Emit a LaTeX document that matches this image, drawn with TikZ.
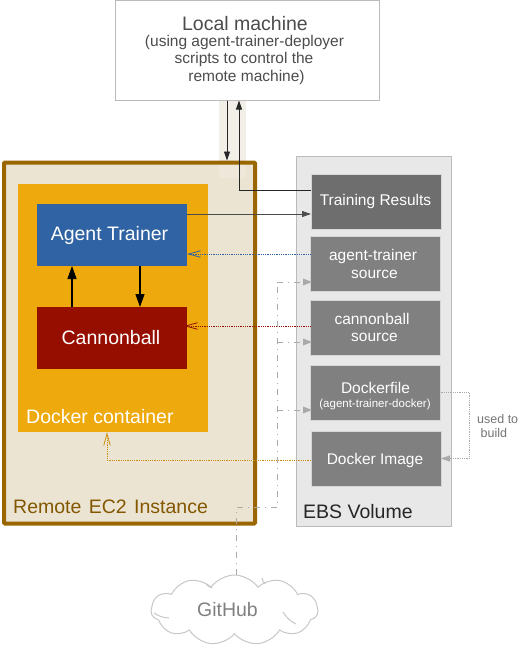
\documentclass[tikz,border=0pt]{standalone}
\usepackage{fontspec}
\setmainfont{Liberation Sans}
\usetikzlibrary{shapes.symbols,arrows.meta,positioning}

\definecolor{ecborder}{HTML}{996600}
\definecolor{ecfill}{HTML}{ECE4D3}
\definecolor{dockerfill}{HTML}{EEA90C}
\definecolor{trainerblue}{HTML}{3063A3}
\definecolor{cannonred}{HTML}{960E00}
\definecolor{ebsfill}{HTML}{E8E8E8}
\definecolor{frameline}{HTML}{BBBBBB}
\definecolor{itemgrey}{HTML}{808080}
\definecolor{resultgrey}{HTML}{6E6E6E}
\definecolor{gitgrey}{HTML}{AAAAAA}
\definecolor{bandfill}{HTML}{F2EFE9}

\newcommand{\px}[1]{\fontsize{#1}{#1}\selectfont}
\newcommand{\nudge}[1]{\hspace*{#1}}

\tikzset{
    framebox/.style={inner sep=0pt, outer sep=0pt, anchor=north west},
    itembox/.style={inner sep=0pt, outer sep=0pt, anchor=north west, minimum width=130pt, minimum height=55pt,
        fill=itemgrey, draw=frameline!60, line width=1pt, text=white, align=center, font=\px{15.5}},
    corebox/.style={inner sep=0pt, outer sep=0pt, anchor=north west, minimum width=150pt, minimum height=62pt,
        text=white, font=\px{19.5}},
    darkline/.style={line width=0.9pt, draw=black!85, -{Triangle[length=9pt,width=6pt]}},
    coreline/.style={line width=1.2pt, draw=black, -{Triangle[length=13pt,width=9pt]}},
    dotline/.style={line width=0.8pt, densely dotted, -{Straight Barb[length=12pt,width=6.5pt]}},
    gitline/.style={line width=0.8pt, draw=gitgrey, dash pattern=on 6pt off 5pt on 1pt off 5pt},
}

\begin{document}
\begin{tikzpicture}[x=1pt, y=-1pt]
\useasboundingbox (0,0) rectangle (520,646);
% Link band behind the two arrows
\fill[bandfill] (219,100) rectangle (246,178);
% Outer frames
\node[framebox, outer sep=2pt, minimum width=251pt, minimum height=361pt, fill=ecfill, draw=ecborder, line width=4pt, rounded corners=1pt] (remote) at (2,160.5) {};
\fill[bandfill, opacity=0.35] (219,165) rectangle (246,178);
\node[framebox, minimum width=155pt, minimum height=370pt, fill=ebsfill, draw=frameline, line width=1pt] (ebs) at (296,156) {};
\node[framebox, minimum width=190pt, minimum height=248pt, fill=dockerfill] (docker) at (18,184) {};
\node[framebox, minimum width=264pt, minimum height=100pt, fill=white, draw=frameline, line width=1pt, text=black!70, align=center] (local) at (115,0.5)
    {{\px{19.5}\nudge{-4pt}Local machine}\\[4pt]{\px{15.5}\nudge{-5pt}(using agent-trainer-deployer}\\[2pt]{\px{15.5}\nudge{-6pt}scripts to control the}\\[2pt]{\px{15.5}\nudge{-1pt}remote machine)}};
% Boxes inside the container
\node[corebox, fill=trainerblue] (trainer) at (37,204) {\nudge{-5pt}Agent Trainer};
\node[corebox, fill=cannonred] (cannon) at (37,307) {\nudge{-2pt}Cannonball};
% Boxes on the volume
\node[itembox, fill=resultgrey] (results) at (311,174) {\nudge{-1pt}Training Results};
\node[itembox] (agentsrc) at (310.5,236.5) {\nudge{-5pt}agent-trainer\\[2pt]\nudge{-2pt}source};
\node[itembox] (cannonsrc) at (310.5,300) {\nudge{-7pt}cannonball\\[2pt]\nudge{-2pt}source};
\node[itembox] (dockerfile) at (310.5,365) {\rule{0pt}{18pt}Dockerfile\\[-1pt]{\px{11.5}\nudge{-1pt}(agent-trainer-docker)}};
\node[itembox] (image) at (311,431) {\rule{0pt}{15pt}\nudge{-2pt}Docker Image};
% Labels
\node[inner sep=0pt, anchor=west, text=white, font=\px{19.5}] (dockerlabel) at (26,417) {Docker container};
\node[inner sep=0pt, anchor=west, text=ecborder!85!black, font=\px{19.5}] (remotelabel) at (13,507) {Remote\hspace{2pt} EC2\hspace{2pt} Instance};
\node[inner sep=0pt, anchor=west, text=black!85, font=\px{19.5}] (ebslabel) at (303,512) {EBS Volume};
\node[inner sep=0pt, anchor=west, text=black!55, align=left, font=\px{12.5}] (buildlabel) at (477,426) {used to\\[2pt]\ build};
\node[cloud, cloud puffs=11, cloud puff arc=110, aspect=2.4, inner sep=0pt, outer sep=0pt, minimum width=167pt, minimum height=70pt,
    draw=black!22, line width=1pt, fill=white, text=black!50, font=\px{19.5}] (github) at (234.5,610) {\nudge{-14pt}GitHub};
% Inner strokes of the cloud
\foreach \ax/\ay/\bx/\by in {154/613/169/618, 283/612/296/624, 262/578/265/584, 206/584/212/588} {
    \draw[draw=black!22, line width=1pt] (\ax,\ay) to[bend right=15] (\bx,\by);
}
% Local machine and the instance
\coordinate (downx) at (227,0);
\coordinate (upx) at (239,0);
\draw[darkline] (local.south -| downx) -- (remote.north -| downx);
\draw[darkline] (results.west |- 0,190) -- (upx |- 0,190) -- (local.south -| upx);
% Into the volume and back
\draw[darkline, draw=black!70] (trainer.east |- 0,214) -- (results.west |- 0,214);
\draw[dotline, draw=trainerblue] (agentsrc.west |- 0,254) -- (trainer.east |- 0,254);
\draw[dotline, draw=cannonred] (cannonsrc.west |- 0,326) -- ([xshift=-3pt]cannon.east |- 0,326);
\coordinate (imagex) at (107,0);
\draw[dotline, draw=dockerfill!85!black] (image.west |- 0,460) -- (imagex |- 0,460) -- (docker.south -| imagex);
% Between the two programs
\draw[coreline] (cannon.north -| 72,0) -- (trainer.south -| 72,0);
\draw[coreline] (trainer.south -| 140,0) -- (cannon.north -| 140,0);
% Build step
\coordinate (buildx) at (469,0);
\draw[line width=0.8pt, draw=gitgrey, densely dotted, -{Triangle[length=9pt,width=6pt]}]
    (dockerfile.east) -- (buildx |- dockerfile.east) -- (buildx |- image.east) -- (image.east);
% GitHub checkouts
\coordinate (gitturn) at (236.5,507);
\coordinate (gittrunk) at (277,507);
\draw[gitline] (github.north -| gitturn) -- (gitturn) -- (gittrunk) -- (gittrunk |- 0,282);
\foreach \target/\y in {agentsrc/282,cannonsrc/342,dockerfile/410} {
    \draw[gitline] (gittrunk |- 0,\y) -- (\target.west |- 0,\y);
    \fill[gitgrey] (\target.west |- 0,\y) ++(1.5,0) -- ++(-9,-3.5) -- ++(0,7) -- cycle;
}
\end{tikzpicture}
\end{document}
